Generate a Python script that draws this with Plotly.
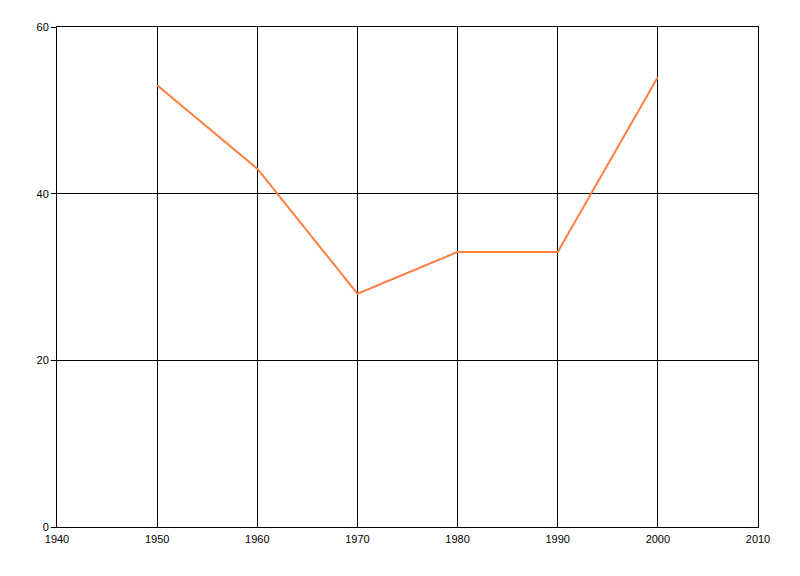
import plotly.graph_objects as go

years = [1950, 1960, 1970, 1980, 1990, 2000]
values = [53, 43, 28, 33, 33, 54]

fig = go.Figure()
fig.add_trace(go.Scatter(x=years, y=values, mode="lines",
                         line=dict(color="#FF8040", width=2), showlegend=False))

fig.update_layout(
    width=800, height=576,
    margin=dict(l=49, r=50, t=19, b=57),
    paper_bgcolor="white", plot_bgcolor="white",
    font=dict(family="Liberation Sans", size=11, color="black"),
    xaxis=dict(range=[1940, 2010], tickvals=[1940, 1950, 1960, 1970, 1980, 1990, 2000, 2010],
               showgrid=True, gridcolor="black", gridwidth=1, zeroline=False,
               showline=True, linecolor="black", linewidth=1, mirror=True,
               ticks="outside", ticklen=2, tickcolor="rgba(0,0,0,0)"),
    yaxis=dict(range=[0, 60], tickvals=[0, 20, 40, 60],
               showgrid=True, gridcolor="black", gridwidth=1, zeroline=False,
               showline=True, linecolor="black", linewidth=1, mirror=True,
               ticks="outside", ticklen=5, tickcolor="black"),
)

fig.write_html("out.html")
